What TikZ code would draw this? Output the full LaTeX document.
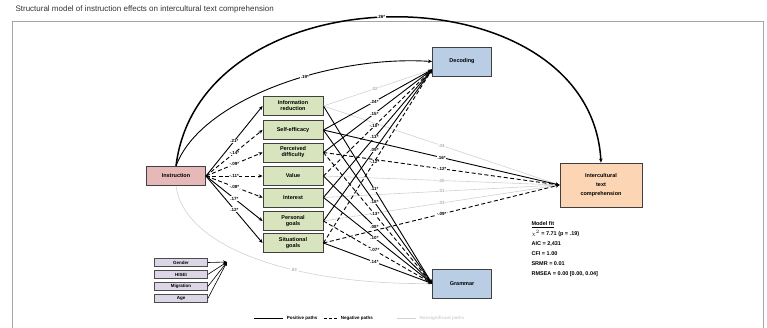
\documentclass[tikz,border=0pt]{standalone}
\usepackage{fontspec}
\setmainfont{Liberation Sans}
\usetikzlibrary{arrows.meta,calc}
\definecolor{instrfill}{HTML}{E6B9B8}
\definecolor{medfill}{HTML}{D7E4BD}
\definecolor{outfill}{HTML}{B9CDE5}
\definecolor{compfill}{HTML}{FCD5B5}
\definecolor{covfill}{HTML}{DCD6E6}

\begin{document}
\begin{tikzpicture}[x=1pt,y=-1pt,>={Stealth[length=4pt,width=3.5pt]},
  box/.style={draw=black!75,line width=0.9pt,align=center,inner sep=1pt,
    font=\fontsize{5.5}{6}\selectfont\bfseries},
  med/.style={box,fill=medfill,minimum width=60pt,minimum height=19pt},
  outc/.style={box,fill=outfill,minimum width=59pt,minimum height=29pt},
  cov/.style={draw=black!70,line width=0.6pt,fill=covfill,minimum width=53pt,minimum height=7.5pt,
    inner sep=0pt,font=\fontsize{4.5}{5}\selectfont\bfseries},
  pospath/.style={->,line width=0.9pt,black},
  negpath/.style={->,line width=0.9pt,black,dash pattern=on 4pt off 2.5pt},
  nspath/.style={->,line width=0.6pt,black!18},
  coef/.style={font=\fontsize{4.5}{4.5}\selectfont\bfseries,fill=white,inner sep=0.6pt},
  nscoef/.style={coef,text=black!30}]
\useasboundingbox (0,0) rectangle (767,327);
\node[anchor=west,font=\fontsize{8}{9}\selectfont,text=black!80] (title) at (12,9) {Structural model of instruction effects on intercultural text comprehension};
\draw[black!35,line width=0.7pt] (12,21) rectangle (763,332);

% boxes
\node[box,fill=instrfill,minimum width=59pt,minimum height=19pt] (instr) at (176,176) {Instruction};
\node[med] (m1) at (293,106) {Information\\reduction};
\node[med] (m2) at (293,130) {Self-efficacy};
\node[med] (m3) at (293,152.5) {Perceived\\difficulty};
\node[med] (m4) at (293,176) {Value};
\node[med] (m5) at (293,197.5) {Interest};
\node[med] (m6) at (293,221) {Personal\\goals};
\node[med] (m7) at (293,243) {Situational\\goals};
\node[outc] (top) at (462,61.5) {Decoding};
\node[outc] (bot) at (462,283.5) {Grammar};
\node[box,fill=compfill,minimum width=82pt,minimum height=44pt,font=\fontsize{5.5}{9}\selectfont\bfseries] (comp) at (601,185) {Intercultural\\text\\comprehension};

% covariates
\node[cov] (gender) at (181,262.5) {Gender};
\node[cov] (hisei) at (181,274.5) {HISEI};
\node[cov] (migr) at (181,286.5) {Migration};
\node[cov] (age) at (181,298.5) {Age};
\coordinate (covin) at (227,262);
\draw[->,line width=0.6pt] (gender.east) -- (covin);
\draw[->,line width=0.6pt] (hisei.east) -- (covin);
\draw[->,line width=0.6pt] (migr.east) -- (covin);
\draw[->,line width=0.6pt] (age.east) -- (covin);

% nonsignificant paths
\draw[nspath] (instr.south) .. controls (185,250) and (300,285) .. (bot.west) node[nscoef,pos=.62] {.03};
\draw[nspath] (m1.east) -- (top.195) node[nscoef,pos=.47] {.02};
\draw[nspath] (m1.east) -- (comp.west) node[nscoef,pos=.5] {.04};
\draw[nspath] (m4.east) -- (comp.west) node[nscoef,pos=.5] {.05};
\draw[nspath] (m5.east) -- (comp.west) node[nscoef,pos=.5] {.01};
\draw[nspath] (m6.east) -- (comp.west) node[nscoef,pos=.5] {.03};

% instruction paths
\draw[->,line width=1.5pt] (instr.north) .. controls (200,-32) and (590,-32) .. (comp.north) node[coef,pos=.48] {.26*};
\draw[pospath] (instr.north) .. controls (200,100) and (330,55) .. (top.west) node[coef,pos=.6] {.19*};
\draw[pospath] (instr.east) -- (m1.west) node[coef,pos=.5] {.21*};
\draw[negpath] (instr.east) -- (m2.west) node[coef,pos=.5] {-.14*};
\draw[negpath] (instr.east) -- (m3.west) node[coef,pos=.5] {-.09*};
\draw[negpath] (instr.east) -- (m4.west) node[coef,pos=.5] {-.11*};
\draw[negpath] (instr.east) -- (m5.west) node[coef,pos=.5] {-.08*};
\draw[pospath] (instr.east) -- (m6.west) node[coef,pos=.5] {.17*};
\draw[pospath] (instr.east) -- (m7.west) node[coef,pos=.5] {.12*};

% mediator paths
\draw[pospath] (m2.east) -- (top.195) node[coef,pos=.47] {.24*};
\draw[pospath] (m3.east) -- (top.195) node[coef,pos=.47] {.15*};
\draw[negpath] (m4.east) -- (top.195) node[coef,pos=.47] {-.10*};
\draw[pospath] (m5.east) -- (top.195) node[coef,pos=.47] {.13*};
\draw[pospath] (m6.east) -- (top.195) node[coef,pos=.47] {.09*};
\draw[negpath] (m7.east) -- (top.195) node[coef,pos=.47] {-.12*};
\draw[pospath] (m1.east) -- (bot.west) node[coef,pos=.47] {.11*};
\draw[pospath] (m2.east) -- (bot.west) node[coef,pos=.47] {.18*};
\draw[negpath] (m3.east) -- (bot.west) node[coef,pos=.47] {-.13*};
\draw[pospath] (m4.east) -- (bot.west) node[coef,pos=.47] {.08*};
\draw[pospath] (m5.east) -- (bot.west) node[coef,pos=.47] {.10*};
\draw[negpath] (m6.east) -- (bot.west) node[coef,pos=.47] {-.07*};
\draw[pospath] (m7.east) -- (bot.west) node[coef,pos=.47] {.14*};
\draw[pospath] (m2.east) -- (comp.west) node[coef,pos=.5] {.16*};
\draw[negpath] (m3.east) -- (comp.west) node[coef,pos=.5] {-.12*};
\draw[negpath] (m7.east) -- (comp.west) node[coef,pos=.5] {-.09*};

% model fit
\node[anchor=north west,align=left,font=\fontsize{5.5}{10}\selectfont\bfseries] (fit) at (528,218)
  {\underline{Model fit}\\$\chi^2$ = 7.71 (p = .19)\\AIC = 2,431\\CFI = 1.00\\SRMR = 0.01\\RMSEA = 0.00 [0.00, 0.04]};

% legend
\coordinate (lp1) at (254,318); \coordinate (lp2) at (283,318);
\coordinate (ln1) at (324,318); \coordinate (ln2) at (337,318);
\coordinate (ls1) at (397,318); \coordinate (ls2) at (416,318);
\draw[line width=0.9pt] (lp1) -- (lp2) node[right,font=\fontsize{4.5}{5}\selectfont\bfseries] (lgpos) {Positive paths};
\draw[line width=0.9pt,dash pattern=on 3pt off 2pt] (ln1) -- (ln2) node[right,font=\fontsize{4.5}{5}\selectfont\bfseries] (lgneg) {Negative paths};
\draw[line width=0.6pt,black!18] (ls1) -- (ls2) node[right,font=\fontsize{4.5}{5}\selectfont\bfseries] (lgns) {Nonsignificant paths};
\end{tikzpicture}
\end{document}
